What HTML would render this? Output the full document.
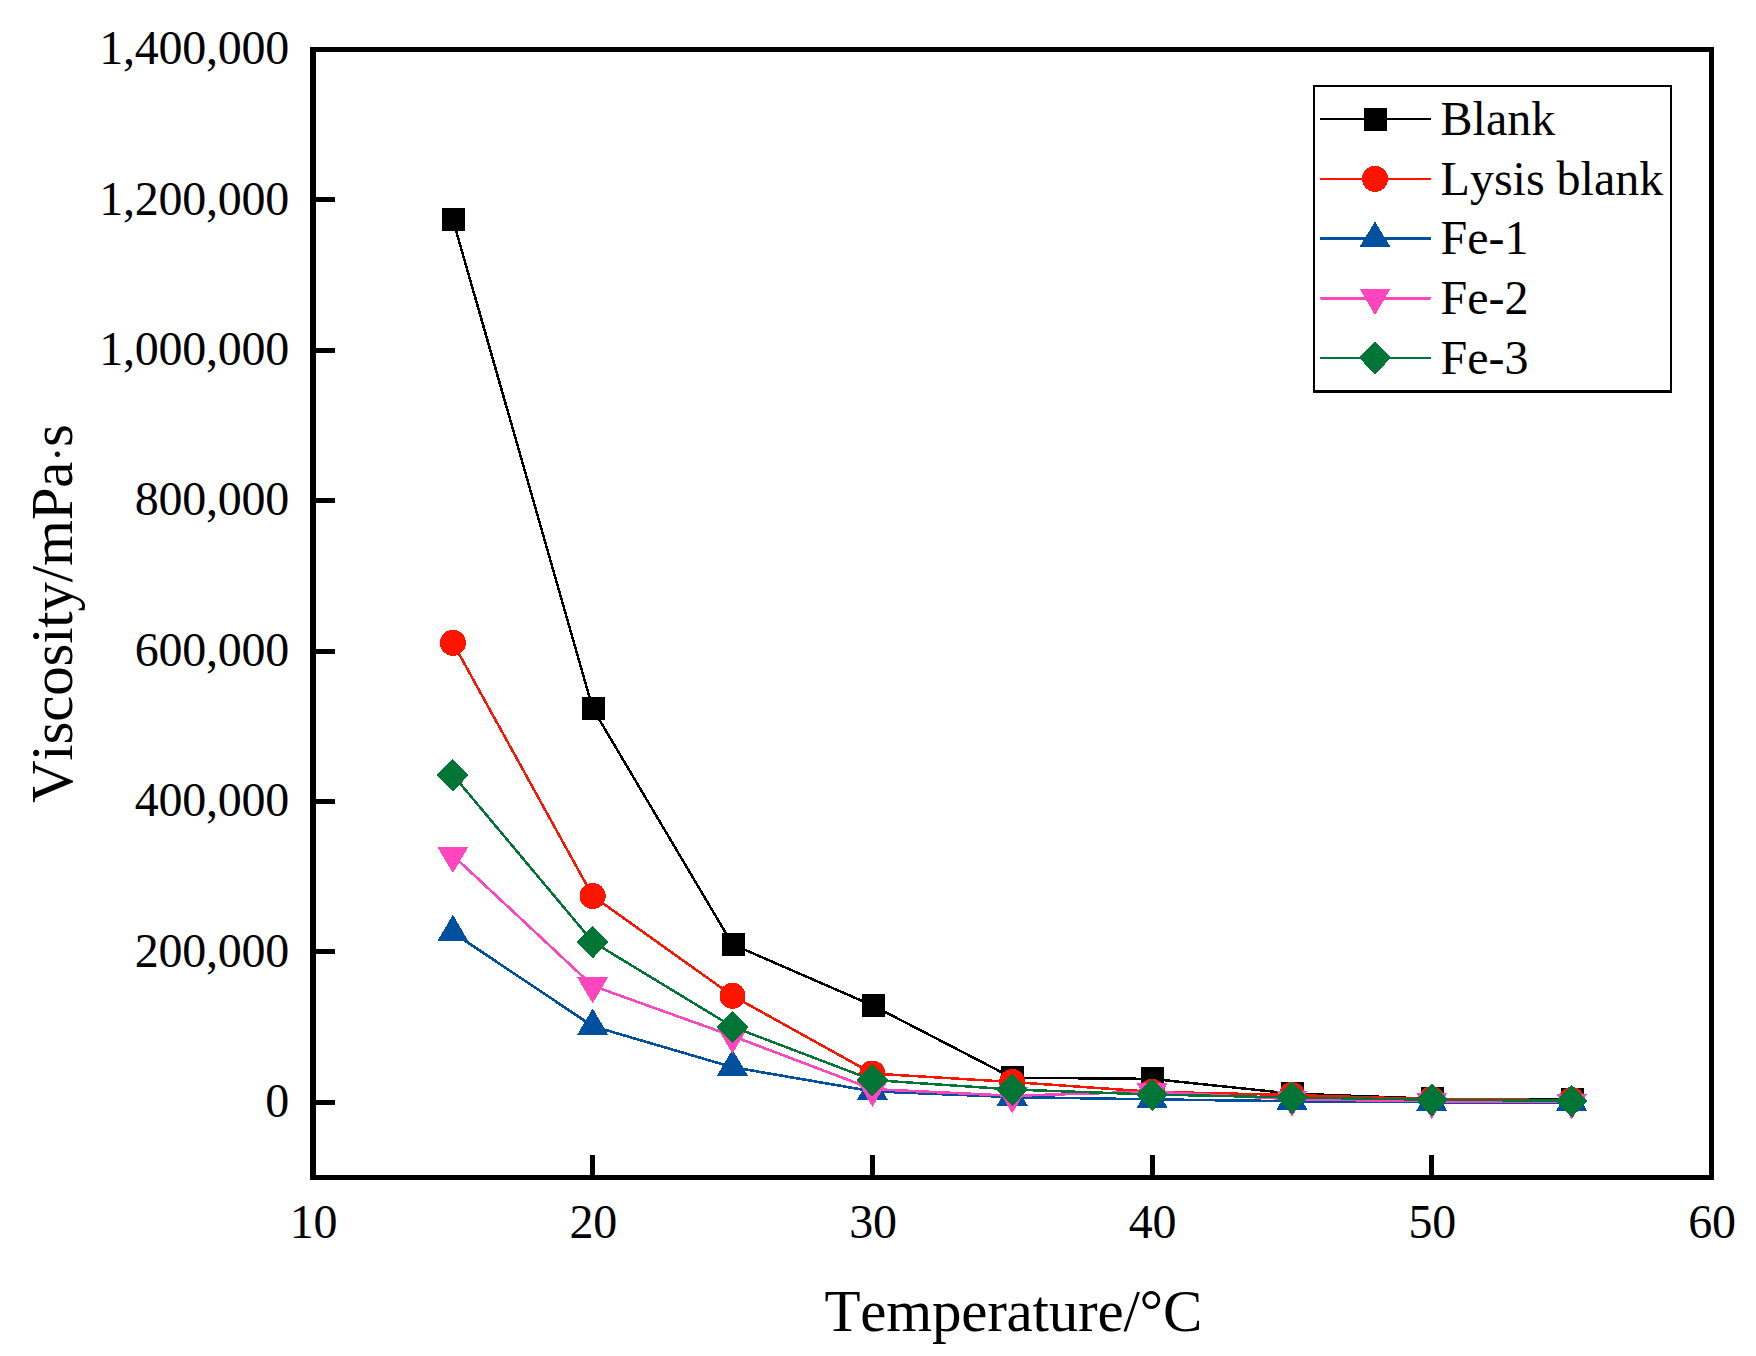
<!DOCTYPE html>
<html lang="en">
<head>
<meta charset="utf-8">
<title>Viscosity vs Temperature</title>
<style>
html,body{margin:0;padding:0;background:#ffffff;}
body{width:1756px;height:1356px;overflow:hidden;}
svg{display:block;}
text{font-family:"Liberation Serif","DejaVu Serif",serif;fill:#000;font-kerning:none;font-variant-ligatures:none;}
.tick{font-size:48px;letter-spacing:-0.24px;}
.title{font-size:59px;letter-spacing:-0.22px;}
.leg{font-size:48px;}
</style>
</head>
<body>
<svg width="1756" height="1356" viewBox="0 0 1756 1356">
<rect x="0" y="0" width="1756" height="1356" fill="#ffffff"/>

<g shape-rendering="crispEdges">
<polyline points="452.9,219.5 592.7,708.4 732.5,944.4 872.4,1005.4 1012.2,1077.7 1152.1,1078.9 1292.0,1093.6 1431.8,1098.7 1571.7,1099.6" fill="none" stroke="#000000" stroke-width="2.5" stroke-linejoin="round"/>
<rect x="442.0" y="208.0" width="23" height="23" fill="#000000"/>
<rect x="581.8" y="696.9" width="23" height="23" fill="#000000"/>
<rect x="721.6" y="932.9" width="23" height="23" fill="#000000"/>
<rect x="861.5" y="993.9" width="23" height="23" fill="#000000"/>
<rect x="1001.4" y="1066.2" width="23" height="23" fill="#000000"/>
<rect x="1141.2" y="1067.4" width="23" height="23" fill="#000000"/>
<rect x="1281.0" y="1082.1" width="23" height="23" fill="#000000"/>
<rect x="1420.9" y="1087.2" width="23" height="23" fill="#000000"/>
<rect x="1560.8" y="1088.1" width="23" height="23" fill="#000000"/>
<polyline points="452.9,642.8 592.7,896.0 732.5,995.8 872.4,1073.5 1012.2,1082.0 1152.1,1091.8 1292.0,1095.0 1431.8,1099.2 1571.7,1100.0" fill="none" stroke="#FF1400" stroke-width="2.5" stroke-linejoin="round"/>
<circle cx="452.9" cy="642.8" r="13" fill="#FF1400"/>
<circle cx="592.7" cy="896.0" r="13" fill="#FF1400"/>
<circle cx="732.5" cy="995.8" r="13" fill="#FF1400"/>
<circle cx="872.4" cy="1073.5" r="13" fill="#FF1400"/>
<circle cx="1012.2" cy="1082.0" r="13" fill="#FF1400"/>
<circle cx="1152.1" cy="1091.8" r="13" fill="#FF1400"/>
<circle cx="1292.0" cy="1095.0" r="13" fill="#FF1400"/>
<circle cx="1431.8" cy="1099.2" r="13" fill="#FF1400"/>
<circle cx="1571.7" cy="1100.0" r="13" fill="#FF1400"/>
<polyline points="452.9,932.5 592.7,1026.2 732.5,1067.2 872.4,1091.3 1012.2,1097.1 1152.1,1099.4 1292.0,1101.2 1431.8,1102.3 1571.7,1102.3" fill="none" stroke="#0050A0" stroke-width="2.6" stroke-linejoin="round"/>
<polygon points="452.9,914.7 468.2,940.9 437.5,940.9" fill="#0050A0"/>
<polygon points="592.7,1008.4 608.1,1034.6 577.3,1034.6" fill="#0050A0"/>
<polygon points="732.5,1049.4 747.9,1075.6 717.1,1075.6" fill="#0050A0"/>
<polygon points="872.4,1073.5 887.8,1099.7 857.0,1099.7" fill="#0050A0"/>
<polygon points="1012.2,1079.3 1027.7,1105.5 996.9,1105.5" fill="#0050A0"/>
<polygon points="1152.1,1081.6 1167.5,1107.8 1136.7,1107.8" fill="#0050A0"/>
<polygon points="1292.0,1083.4 1307.4,1109.6 1276.5,1109.6" fill="#0050A0"/>
<polygon points="1431.8,1084.5 1447.2,1110.7 1416.4,1110.7" fill="#0050A0"/>
<polygon points="1571.7,1084.5 1587.1,1110.7 1556.2,1110.7" fill="#0050A0"/>
<polyline points="452.9,855.4 592.7,985.8 732.5,1036.0 872.4,1089.1 1012.2,1095.8 1152.1,1091.6 1292.0,1099.2 1431.8,1101.4 1571.7,1102.0" fill="none" stroke="#FF46BE" stroke-width="2.6" stroke-linejoin="round"/>
<polygon points="452.9,873.1 468.2,847.0 437.5,847.0" fill="#FF46BE"/>
<polygon points="592.7,1003.5 608.1,977.4 577.3,977.4" fill="#FF46BE"/>
<polygon points="732.5,1053.7 747.9,1027.6 717.1,1027.6" fill="#FF46BE"/>
<polygon points="872.4,1106.8 887.8,1080.7 857.0,1080.7" fill="#FF46BE"/>
<polygon points="1012.2,1113.5 1027.7,1087.4 996.9,1087.4" fill="#FF46BE"/>
<polygon points="1152.1,1109.3 1167.5,1083.2 1136.7,1083.2" fill="#FF46BE"/>
<polygon points="1292.0,1116.9 1307.4,1090.8 1276.5,1090.8" fill="#FF46BE"/>
<polygon points="1431.8,1119.1 1447.2,1093.0 1416.4,1093.0" fill="#FF46BE"/>
<polygon points="1571.7,1119.7 1587.1,1093.6 1556.2,1093.6" fill="#FF46BE"/>
<polyline points="452.9,774.9 592.7,941.8 732.5,1026.7 872.4,1080.0 1012.2,1089.5 1152.1,1094.5 1292.0,1097.5 1431.8,1099.7 1571.7,1100.8" fill="none" stroke="#007536" stroke-width="2.5" stroke-linejoin="round"/>
<polygon points="452.9,758.9 468.9,774.9 452.9,791.5 436.9,774.9" fill="#007536"/>
<polygon points="592.7,925.8 608.7,941.8 592.7,958.4 576.7,941.8" fill="#007536"/>
<polygon points="732.5,1010.7 748.5,1026.7 732.5,1043.3 716.5,1026.7" fill="#007536"/>
<polygon points="872.4,1064.0 888.4,1080.0 872.4,1096.6 856.4,1080.0" fill="#007536"/>
<polygon points="1012.2,1073.5 1028.2,1089.5 1012.2,1106.1 996.2,1089.5" fill="#007536"/>
<polygon points="1152.1,1078.5 1168.1,1094.5 1152.1,1111.1 1136.1,1094.5" fill="#007536"/>
<polygon points="1292.0,1081.5 1308.0,1097.5 1292.0,1114.1 1276.0,1097.5" fill="#007536"/>
<polygon points="1431.8,1083.7 1447.8,1099.7 1431.8,1116.3 1415.8,1099.7" fill="#007536"/>
<polygon points="1571.7,1084.8 1587.7,1100.8 1571.7,1117.4 1555.7,1100.8" fill="#007536"/>
</g>
<g shape-rendering="crispEdges" stroke="#000" fill="none">
<path d="M310 47H1714V1180H310Z M316 52V1175H1709V52Z" fill="#000" stroke="none" fill-rule="evenodd"/>
<line x1="316" y1="1102.3" x2="335" y2="1102.3" stroke-width="5"/>
<line x1="316" y1="951.9" x2="335" y2="951.9" stroke-width="5"/>
<line x1="316" y1="801.5" x2="335" y2="801.5" stroke-width="5"/>
<line x1="316" y1="651.1" x2="335" y2="651.1" stroke-width="5"/>
<line x1="316" y1="500.7" x2="335" y2="500.7" stroke-width="5"/>
<line x1="316" y1="350.3" x2="335" y2="350.3" stroke-width="5"/>
<line x1="316" y1="199.9" x2="335" y2="199.9" stroke-width="5"/>
<line x1="592.7" y1="1155" x2="592.7" y2="1176" stroke-width="5"/>
<line x1="872.4" y1="1155" x2="872.4" y2="1176" stroke-width="5"/>
<line x1="1152.1" y1="1155" x2="1152.1" y2="1176" stroke-width="5"/>
<line x1="1431.8" y1="1155" x2="1431.8" y2="1176" stroke-width="5"/>
</g>
<g class="tick" text-anchor="end">
<text x="289" y="1116.9">0</text>
<text x="289" y="966.5">200,000</text>
<text x="289" y="816.1">400,000</text>
<text x="289" y="665.7">600,000</text>
<text x="289" y="515.3">800,000</text>
<text x="289" y="364.9">1,000,000</text>
<text x="289" y="214.5">1,200,000</text>
<text x="289" y="64.1">1,400,000</text>
</g>
<g class="tick" text-anchor="middle">
<text x="313.5" y="1237.6">10</text>
<text x="593.2" y="1237.6">20</text>
<text x="872.9" y="1237.6">30</text>
<text x="1152.6" y="1237.6">40</text>
<text x="1432.3" y="1237.6">50</text>
<text x="1712.0" y="1237.6">60</text>
</g>
<text class="title" text-anchor="middle" x="1013.3" y="1331">Temperature/°C</text>
<text class="title" text-anchor="middle" transform="translate(72.3,613.7) rotate(-90)">Viscosity/mPa<tspan font-size="45">·</tspan>s</text>
<path d="M1313 85H1672V393H1313Z M1315 87V390H1670V87Z" fill="#000" fill-rule="evenodd" shape-rendering="crispEdges"/>
<g shape-rendering="crispEdges">
<line x1="1319.8" y1="118.9" x2="1430.8" y2="118.9" stroke="#000000" stroke-width="2"/>
<rect x="1363.5" y="108.1" width="23" height="23" fill="#000000"/>
<line x1="1319.8" y1="178.8" x2="1430.8" y2="178.8" stroke="#FF1400" stroke-width="2"/>
<circle cx="1375.0" cy="178.8" r="13" fill="#FF1400"/>
<line x1="1321.3" y1="238.4" x2="1429.4" y2="238.4" stroke="#0050A0" stroke-width="3" stroke-linecap="round"/>
<polygon points="1375.0,221.6 1390.4,246.8 1359.6,246.8" fill="#0050A0"/>
<line x1="1321.3" y1="298.2" x2="1429.4" y2="298.2" stroke="#FF46BE" stroke-width="3" stroke-linecap="round"/>
<polygon points="1375.0,315.2 1390.4,288.8 1359.6,288.8" fill="#FF46BE"/>
<line x1="1319.8" y1="357.8" x2="1430.8" y2="357.8" stroke="#007536" stroke-width="2"/>
<polygon points="1375.0,341.8 1391.0,357.8 1375.0,374.4 1359.0,357.8" fill="#007536"/>
</g>
<g class="leg">
<text x="1440.6" y="134.8">Blank</text>
<text x="1440.6" y="194.7">Lysis blank</text>
<text x="1440.6" y="254.3">Fe-1</text>
<text x="1440.6" y="314.1">Fe-2</text>
<text x="1440.6" y="373.7">Fe-3</text>
</g>
</svg>
</body>
</html>
